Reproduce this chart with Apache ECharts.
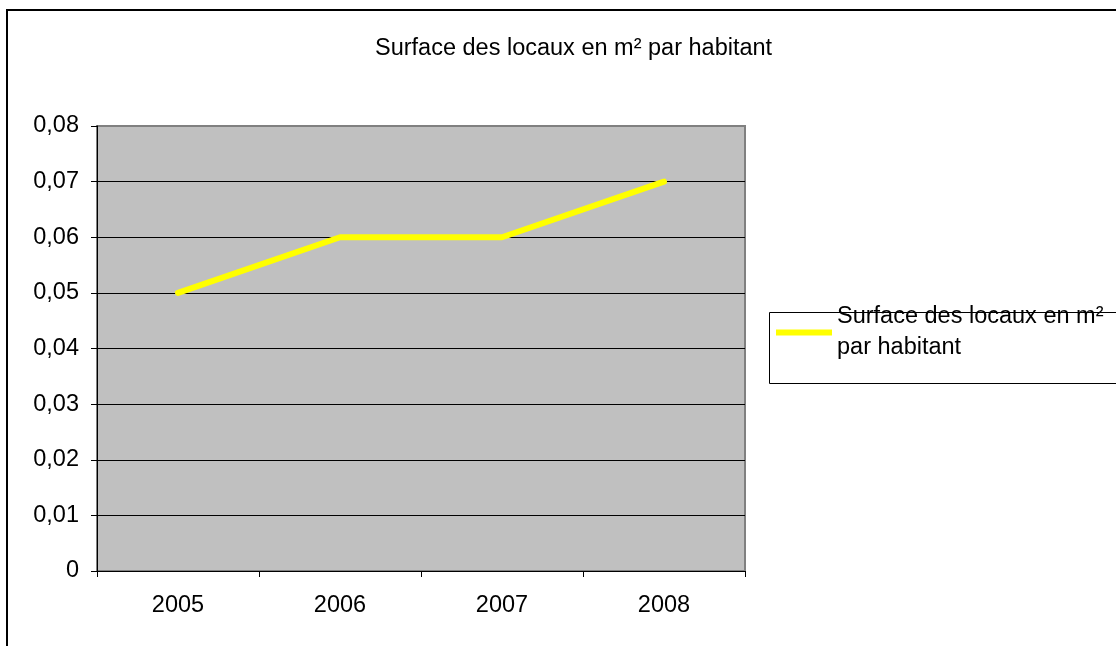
<!DOCTYPE html>
<html>
<head>
<meta charset="utf-8">
<script src="https://cdn.jsdelivr.net/npm/echarts@6/dist/echarts.min.js"></script>
<style>html,body{margin:0;padding:0;background:#fff;}#c{width:1116px;height:646px;}</style>
</head>
<body>
<div id="c"></div>
<script>
const titleText = 'Surface des locaux en m² par habitant';
const categories = ['2005', '2006', '2007', '2008'];
const seriesName = 'Surface des locaux en m² par habitant';
const values = [0.05, 0.06, 0.06, 0.07];
const yTicks = [0, 0.01, 0.02, 0.03, 0.04, 0.05, 0.06, 0.07, 0.08];

const FONT = '"Liberation Sans", Arial, sans-serif';
const FS = 23.5;
const chart = echarts.init(document.getElementById('c'));
chart.setOption({
  animation: false,
  backgroundColor: '#ffffff',
  title: {
    text: titleText, left: 370, top: 32,
    textStyle: { fontFamily: FONT, fontSize: FS, fontWeight: 'normal', color: '#000' }
  },
  grid: {
    left: 97, top: 126, right: 371, bottom: 75,
    show: true, backgroundColor: '#C0C0C0', borderColor: '#808080', borderWidth: 2
  },
  xAxis: {
    type: 'category', data: categories, boundaryGap: true,
    axisLine: { lineStyle: { color: '#000', width: 1 } },
    axisTick: { show: true, length: 6, lineStyle: { color: '#000' } },
    axisLabel: { fontFamily: FONT, fontSize: FS, color: '#000', margin: 23 },
    splitLine: { show: false }
  },
  yAxis: {
    type: 'value', min: yTicks[0], max: yTicks[yTicks.length - 1], interval: 0.01,
    axisLine: { show: true, lineStyle: { color: '#000', width: 1 } },
    axisTick: { show: true, length: 6, lineStyle: { color: '#000' } },
    axisLabel: {
      fontFamily: FONT, fontSize: FS, color: '#000', margin: 18,
      formatter: v => v === 0 ? '0' : v.toFixed(2).replace('.', ',')
    },
    splitLine: { show: true, lineStyle: { color: ['#000', '#000', '#000', '#000', '#000', '#000', '#000', '#000', '#808080'], width: 1 } }
  },
  legend: {
    left: 769, top: 286, orient: 'vertical',
    padding: [0, 0, 0, 7],
    itemWidth: 56, itemHeight: 6, itemGap: 0,
    icon: 'rect',
    formatter: () => 'Surface des locaux en m²\npar habitant',
    textStyle: { fontFamily: FONT, fontSize: FS, color: '#000', lineHeight: 31, padding: [31, 0, 0, 0] },
    data: [{ name: seriesName, itemStyle: { color: '#FFFF00' } }]
  },
  graphic: [
    { type: 'rect', shape: { x: 7, y: 10, width: 1300, height: 1000 }, style: { fill: 'none', stroke: '#000', lineWidth: 2 }, silent: true },
    { type: 'rect', shape: { x: 769.5, y: 312.5, width: 400, height: 71 }, style: { fill: 'none', stroke: '#000', lineWidth: 1 }, silent: true }
  ],
  series: [{
    name: seriesName, type: 'line', data: values,
    symbol: 'none', lineStyle: { color: '#FFFF00', width: 6, cap: 'round' },
    itemStyle: { color: '#FFFF00' }
  }]
});
</script>
</body>
</html>
